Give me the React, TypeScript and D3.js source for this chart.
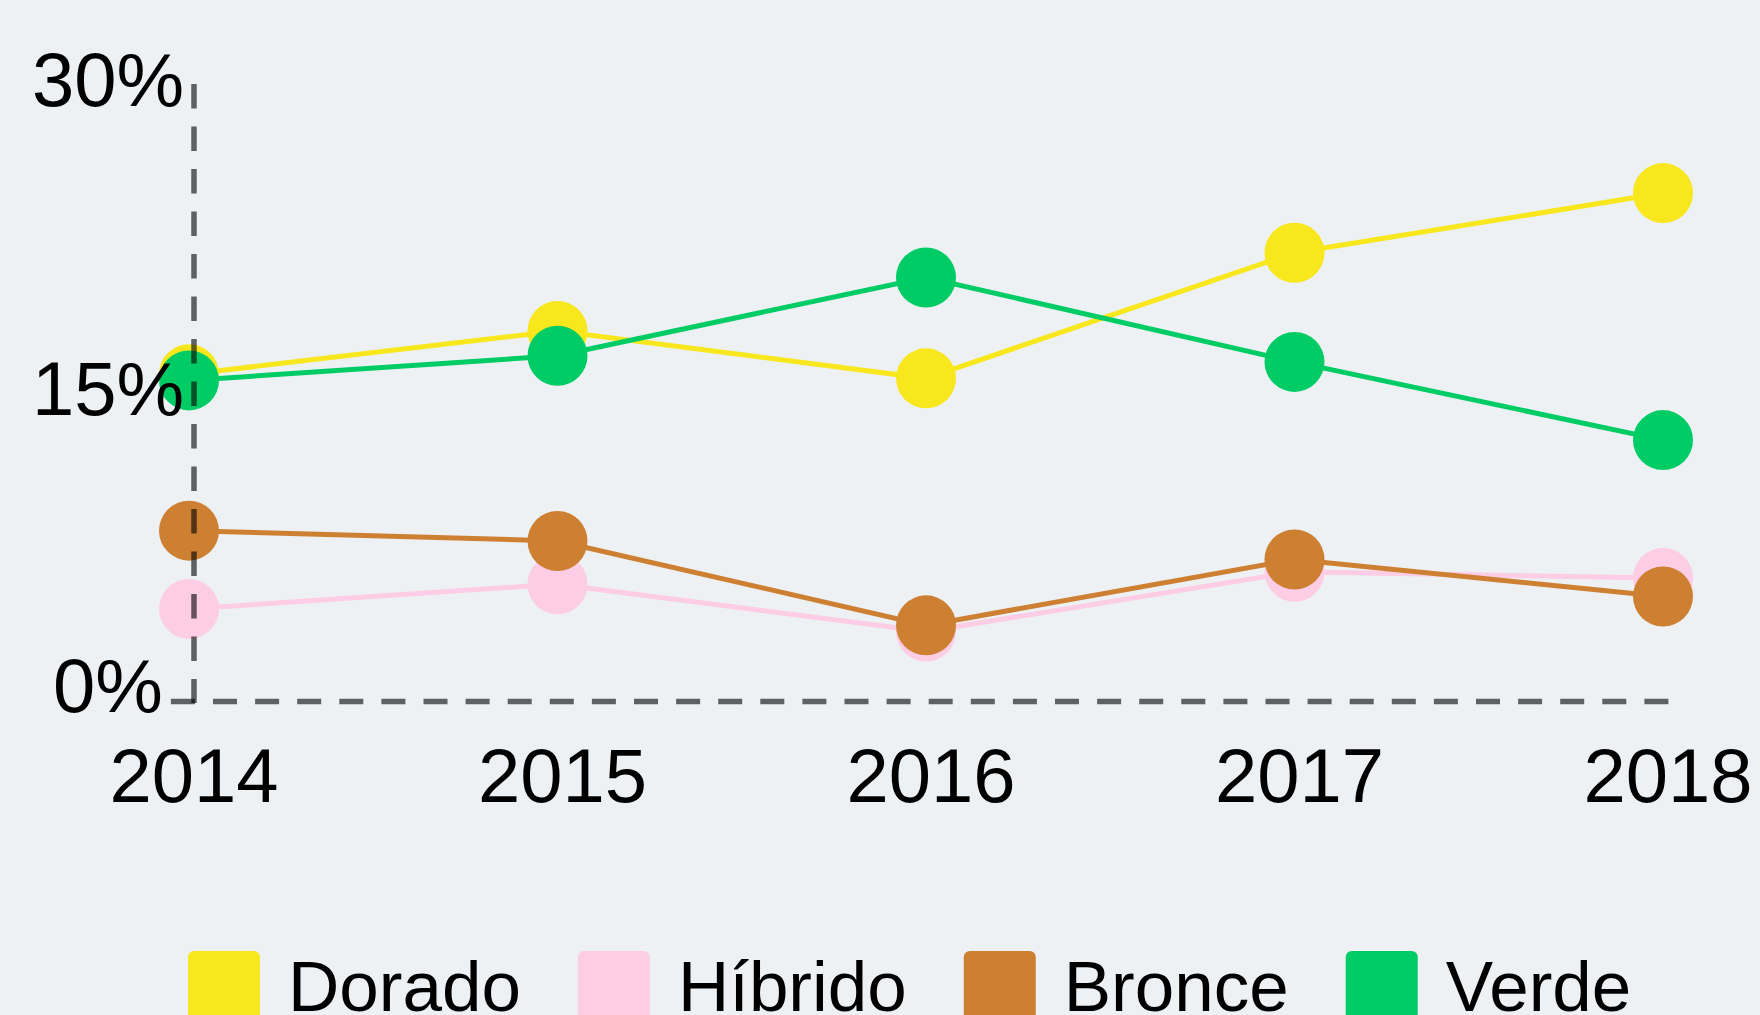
import React, { useEffect, useRef } from "react";
import * as d3 from "d3";

const years = ["2014", "2015", "2016", "2017", "2018"];
const seriesNames = ["Dorado", "Híbrido", "Bronce", "Verde"];
const seriesColors = ["#f8e71c", "#fdcce5", "#cd7f32", "#00cc66"];
const dorado = [15.9, 18.0, 15.7, 21.8, 24.7];
const hibrido = [4.5, 5.7, 3.4, 6.3, 6.0];
const bronce = [8.3, 7.8, 3.7, 6.9, 5.1];
const verde = [15.6, 16.8, 20.6, 16.5, 12.7];
const yTicks = [0, 15, 30];

const W = 1760;
const H = 1015;
const FONT = "'Liberation Sans', Arial, Helvetica, sans-serif";

export default function App() {
  const ref = useRef<SVGSVGElement | null>(null);

  useEffect(() => {
    document.body.style.margin = "0";
    document.body.style.background = "#edf1f4";
    const svg = d3.select(ref.current);
    svg.selectAll("*").remove();

    svg.append("rect").attr("width", W).attr("height", H).attr("fill", "#edf1f4");

    const x = d3.scalePoint<string>().domain(years).range([189, 1663]);
    const y = d3.scaleLinear().domain([0, 30]).range([701.5, 84]);

    const allSeries = [dorado, hibrido, bronce, verde];
    const line = d3
      .line<number>()
      .x((_, i) => x(years[i]) as number)
      .y((d) => y(d));

    const g = svg.append("g");
    allSeries.forEach((vals, si) => {
      const sg = g.append("g");
      sg.append("path")
        .attr("d", line(vals) as string)
        .attr("fill", "none")
        .attr("stroke", seriesColors[si])
        .attr("stroke-width", 5);
      sg.selectAll("circle")
        .data(vals)
        .enter()
        .append("circle")
        .attr("cx", (_, i) => x(years[i]) as number)
        .attr("cy", (d) => y(d))
        .attr("r", 30)
        .attr("fill", seriesColors[si]);
    });

    // dashed axes
    const axisX = 194;
    svg.append("line")
      .attr("x1", axisX).attr("x2", axisX)
      .attr("y1", y(30)).attr("y2", y(0) + 1.5)
      .attr("stroke", "#000").attr("stroke-opacity", 0.6)
      .attr("stroke-width", 5.5).attr("stroke-dasharray", "24.5,18");
    svg.append("line")
      .attr("x1", 170.9).attr("x2", 1668.5)
      .attr("y1", y(0)).attr("y2", y(0))
      .attr("stroke", "#000").attr("stroke-opacity", 0.6)
      .attr("stroke-width", 5.5).attr("stroke-dasharray", "24,18.1");

    // y labels
    svg.selectAll(".ylab")
      .data(yTicks)
      .enter()
      .append("text")
      .attr("x", 108)
      .attr("y", (d) => Math.min(y(d) + 22, y(0) + 10.5))
      .attr("text-anchor", "middle")
      .attr("font-family", FONT)
      .attr("font-size", 76)
      .attr("fill", "#000")
      .text((d) => `${d}%`);

    // x labels
    svg.selectAll(".xlab")
      .data(years)
      .enter()
      .append("text")
      .attr("x", (d) => (x(d) as number) + 5)
      .attr("y", 801.5)
      .attr("text-anchor", "middle")
      .attr("font-family", FONT)
      .attr("font-size", 76)
      .attr("fill", "#000")
      .text((d) => d);

    // legend
    let lx = 188;
    seriesNames.forEach((name, i) => {
      svg.append("rect")
        .attr("x", lx).attr("y", 951)
        .attr("width", 72).attr("height", 72)
        .attr("rx", 6)
        .attr("fill", seriesColors[i]);
      const t = svg.append("text")
        .attr("x", lx + 72 + 28)
        .attr("y", 1010.7)
        .attr("font-family", FONT)
        .attr("font-size", 71)
        .attr("fill", "#000")
        .text(name);
      const tw = (t.node() as SVGTextElement).getComputedTextLength();
      lx = lx + 72 + 28 + tw + 57;
    });
  }, []);

  return (
    <svg
      ref={ref}
      width={W}
      height={H}
      style={{ position: "fixed", left: 0, top: 0, display: "block" }}
    />
  );
}
